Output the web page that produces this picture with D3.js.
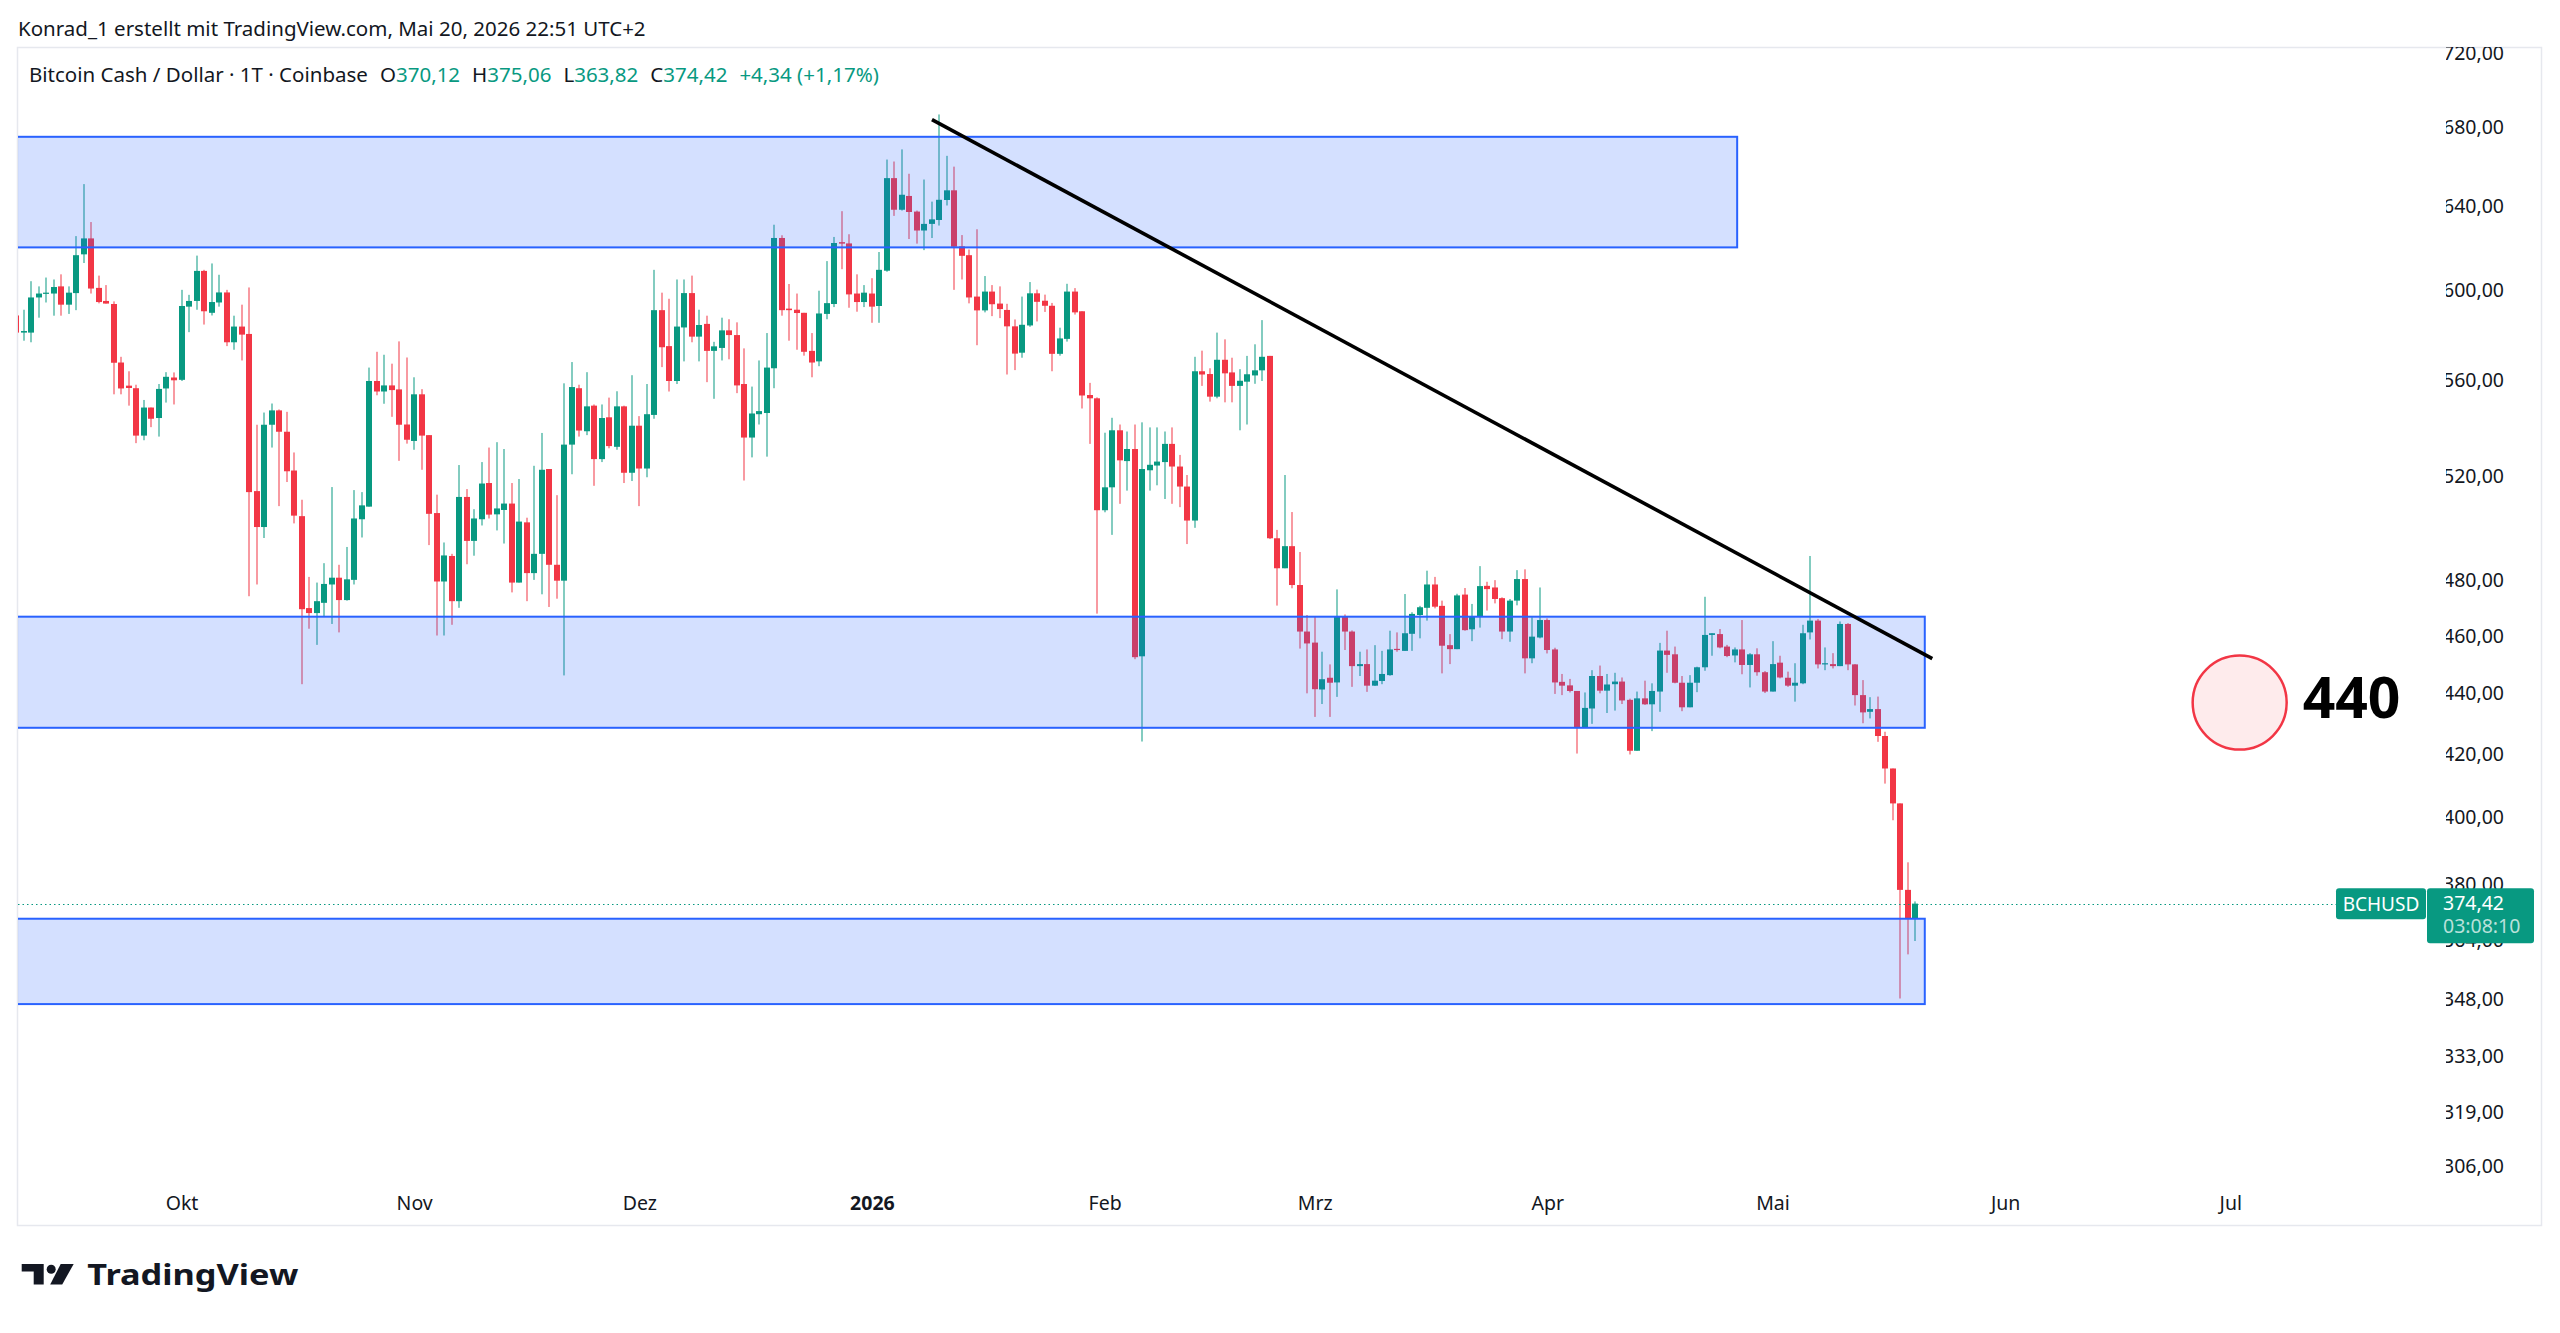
<!DOCTYPE html>
<html>
<head>
<meta charset="utf-8">
<script src="https://cdn.jsdelivr.net/npm/d3@7"></script>
<style>
html, body { margin: 0; padding: 0; background: #fff; }
svg { display: block; font-family: "Noto Sans", "DejaVu Sans", sans-serif; }
</style>
</head>
<body>
<svg id="chart" width="2560" height="1333"></svg>
<script>
// daily BCH/USD candles, first one is 2025-09-09 (partly cut at the left edge)
const firstDay = "2025-09-09";

const opens = [588.4,
	580.7, 580.7, 596.6, 598.4, 598.4, 601.7, 593.3, 598.6, 616.7, 624.3,
	601.0, 595.0, 593.6, 567.5, 557.5, 556.4, 536.5, 548.2, 543.8, 556.3,
	561.0, 560.0, 592.4, 595.0, 608.9, 589.6, 594.3, 598.9, 576.4, 583.4,
	580.1, 514.1, 500.1, 541.0, 547.0, 538.1, 522.3, 504.3, 469.9, 468.1,
	471.8, 478.5, 481.0, 472.8, 480.2, 503.1, 508.0, 559.5, 555.0, 557.6,
	555.9, 541.1, 534.3, 553.8, 536.7, 505.5, 479.6, 489.1, 472.4, 511.8,
	494.8, 503.1, 517.3, 505.0, 506.7, 509.2, 479.2, 501.9, 482.7, 489.9,
	522.9, 485.8, 479.9, 532.8, 556.4, 538.3, 549.0, 526.9, 544.1, 531.9,
	548.7, 521.4, 540.6, 523.1, 545.1, 590.8, 574.7, 559.5, 583.0, 598.6,
	578.9, 584.6, 572.6, 573.9, 581.7, 579.6, 558.2, 535.7, 545.4, 545.9,
	565.0, 624.5, 591.5, 591.0, 589.6, 572.6, 568.0, 589.1, 593.6, 622.5,
	621.9, 598.4, 594.5, 598.4, 592.7, 609.0, 653.9, 638.2, 645.0, 637.3,
	628.1, 631.3, 633.2, 643.0, 647.8, 620.5, 616.3, 597.0, 590.7, 599.3,
	593.8, 590.9, 583.5, 571.8, 583.9, 598.5, 595.1, 592.8, 571.3, 577.9,
	599.3, 590.3, 553.5, 552.1, 506.6, 515.6, 538.7, 526.1, 531.0, 452.8,
	522.4, 524.3, 525.7, 533.1, 523.9, 515.9, 502.6, 563.7, 562.5, 552.8,
	568.7, 563.2, 557.4, 559.2, 561.9, 564.1, 570.4, 495.8, 484.5, 492.8,
	478.3, 461.5, 457.6, 441.4, 445.4, 443.8, 466.8, 461.5, 449.4, 450.1,
	442.7, 444.3, 446.3, 455.4, 454.7, 460.7, 467.4, 470.0, 478.5, 470.7,
	456.7, 455.3, 474.8, 462.3, 467.0, 478.0, 477.4, 473.5, 461.5, 472.6,
	480.5, 452.1, 459.4, 465.6, 455.2, 444.0, 442.8, 440.9, 428.6, 435.0,
	446.0, 441.0, 443.2, 444.1, 437.9, 421.1, 438.4, 436.4, 440.7, 454.8,
	453.5, 443.7, 435.4, 443.7, 449.0, 460.3, 460.6, 456.2, 453.1, 455.2,
	449.8, 453.5, 447.3, 440.7, 450.6, 445.4, 442.7, 443.5, 461.2, 465.4,
	450.0, 450.1, 449.4, 464.2, 450.0, 439.5, 433.9, 434.8, 425.9, 415.4,
	404.4, 378.4, 370.12];

const highs = [590.0,
	591.0, 604.1, 601.7, 605.8, 604.9, 607.3, 601.7, 625.4, 650.9, 632.2,
	606.7, 602.3, 594.8, 570.0, 563.7, 557.9, 551.4, 548.2, 558.2, 563.3,
	563.2, 600.1, 597.8, 616.1, 609.4, 612.4, 607.1, 600.1, 588.3, 593.3,
	601.2, 541.0, 546.1, 549.9, 547.4, 546.4, 529.6, 510.7, 481.3, 479.2,
	486.4, 515.7, 485.8, 492.5, 514.5, 513.7, 565.3, 572.2, 570.9, 567.0,
	576.8, 569.7, 561.1, 556.0, 536.7, 512.7, 494.2, 489.9, 524.5, 514.9,
	507.0, 525.7, 531.6, 533.8, 531.0, 517.3, 518.9, 503.7, 524.2, 537.6,
	522.9, 512.5, 558.5, 567.7, 557.9, 563.3, 549.5, 549.5, 552.4, 555.1,
	549.0, 562.0, 544.6, 558.2, 609.4, 598.8, 596.0, 604.9, 604.9, 606.7,
	591.0, 588.3, 576.6, 587.4, 586.7, 585.3, 573.7, 557.1, 568.4, 580.5,
	630.9, 625.8, 602.8, 598.4, 589.6, 580.5, 599.7, 613.5, 625.0, 637.5,
	626.3, 607.3, 602.3, 605.5, 617.8, 663.3, 662.3, 668.5, 656.1, 637.8,
	653.2, 642.2, 686.7, 665.2, 659.7, 625.9, 619.0, 628.7, 606.5, 602.3,
	601.7, 593.7, 586.6, 597.0, 603.7, 600.2, 597.9, 594.1, 582.9, 602.9,
	600.9, 590.3, 558.7, 552.5, 537.7, 543.9, 541.1, 538.2, 541.1, 542.0,
	539.9, 539.9, 538.2, 539.9, 528.6, 520.5, 570.0, 572.7, 565.0, 580.7,
	577.7, 569.6, 564.6, 570.4, 575.5, 586.3, 570.4, 499.0, 520.5, 505.9,
	490.6, 467.4, 466.8, 454.4, 450.0, 476.7, 467.6, 461.9, 454.4, 455.2,
	456.7, 454.7, 461.8, 461.2, 475.0, 468.4, 470.7, 483.6, 481.3, 472.6,
	460.6, 475.1, 477.2, 471.4, 485.3, 479.5, 480.1, 473.8, 473.2, 483.8,
	484.1, 466.6, 477.4, 466.2, 455.8, 446.7, 445.0, 440.9, 440.4, 448.0,
	449.6, 446.7, 447.1, 445.5, 438.3, 440.7, 444.4, 443.5, 457.5, 461.8,
	456.2, 446.0, 446.3, 449.2, 474.0, 460.9, 462.4, 456.8, 455.9, 465.6,
	453.9, 455.6, 447.7, 458.1, 453.0, 447.5, 450.4, 463.9, 489.1, 466.0,
	455.9, 453.9, 465.1, 464.5, 450.1, 444.6, 438.8, 439.0, 427.3, 415.4,
	404.4, 386.5, 375.06];

const lows = [579.0,
	577.1, 576.4, 587.4, 594.3, 588.3, 588.3, 589.1, 590.8, 612.6, 598.4,
	593.9, 593.8, 553.8, 553.8, 549.0, 533.4, 534.6, 540.0, 536.1, 550.3,
	549.5, 559.5, 580.9, 591.0, 584.3, 588.4, 592.4, 574.7, 573.1, 568.4,
	474.2, 478.5, 495.9, 531.6, 508.2, 517.7, 501.5, 443.2, 462.5, 456.8,
	466.9, 464.2, 461.2, 472.6, 478.5, 496.1, 508.0, 553.4, 549.8, 544.3,
	526.2, 533.2, 530.7, 522.6, 493.2, 460.1, 460.1, 463.9, 470.0, 486.0,
	489.2, 500.7, 503.4, 498.8, 493.8, 475.6, 479.2, 472.4, 480.2, 474.9,
	470.3, 473.3, 446.2, 520.8, 536.1, 536.7, 516.2, 525.7, 531.3, 530.7,
	517.3, 518.1, 508.2, 519.6, 543.5, 565.5, 555.0, 558.2, 568.0, 576.4,
	568.0, 559.0, 551.9, 568.4, 568.9, 554.3, 518.3, 527.6, 541.1, 527.9,
	556.4, 588.3, 577.1, 573.1, 570.5, 561.1, 565.9, 586.7, 592.2, 609.7,
	591.9, 590.1, 592.2, 585.1, 585.1, 608.5, 635.2, 637.8, 624.0, 621.8,
	618.7, 624.5, 630.5, 640.3, 600.1, 604.9, 593.9, 575.1, 589.8, 588.1,
	587.2, 562.3, 564.2, 569.6, 583.3, 585.7, 590.0, 563.7, 570.5, 576.7,
	588.8, 547.8, 533.1, 467.9, 505.8, 497.1, 509.1, 514.3, 451.8, 424.1,
	514.3, 516.4, 511.0, 509.1, 507.8, 493.6, 499.8, 557.4, 550.7, 552.1,
	550.4, 550.4, 538.7, 541.1, 558.3, 559.5, 495.5, 470.8, 484.5, 477.1,
	455.5, 440.1, 432.2, 436.5, 432.2, 438.9, 455.0, 442.3, 446.0, 440.6,
	442.6, 443.2, 446.1, 454.4, 454.7, 454.7, 459.1, 465.4, 469.8, 446.9,
	450.1, 455.3, 461.8, 458.1, 462.9, 469.0, 471.6, 458.8, 457.9, 470.9,
	446.9, 450.4, 459.1, 453.8, 439.9, 439.5, 440.4, 420.2, 428.6, 429.9,
	440.1, 433.5, 434.3, 436.5, 419.9, 421.1, 436.2, 427.5, 433.9, 447.1,
	443.5, 434.1, 435.4, 440.5, 447.8, 453.0, 455.6, 452.5, 450.7, 446.6,
	442.1, 446.1, 440.2, 440.7, 445.2, 442.3, 437.3, 443.2, 458.7, 448.6,
	448.0, 448.6, 449.4, 448.0, 436.0, 430.1, 431.7, 424.0, 410.6, 399.2,
	348.1, 360.1, 363.82];

const closes = [580.7,
	581.4, 596.6, 598.4, 598.8, 601.4, 593.3, 598.8, 616.3, 624.3, 600.7,
	594.5, 593.8, 567.4, 556.3, 556.5, 536.5, 548.2, 543.5, 556.1, 561.3,
	559.8, 592.7, 595.0, 608.9, 590.3, 594.5, 598.9, 576.4, 583.4, 579.8,
	513.7, 500.1, 541.0, 547.0, 538.1, 522.0, 504.5, 469.5, 468.1, 472.4,
	478.7, 481.0, 472.8, 480.4, 503.4, 508.5, 559.5, 555.0, 557.6, 555.6,
	541.0, 534.8, 553.8, 536.5, 505.2, 479.6, 489.3, 472.4, 511.8, 494.8,
	503.4, 517.1, 504.9, 507.3, 509.2, 479.2, 502.2, 482.7, 489.9, 522.6,
	485.8, 479.9, 532.8, 556.9, 538.6, 548.7, 526.9, 543.8, 532.2, 548.7,
	521.4, 540.6, 523.1, 545.4, 590.8, 574.2, 559.5, 583.4, 598.6, 578.9,
	584.1, 572.6, 574.6, 581.7, 579.6, 557.6, 535.7, 545.7, 546.7, 565.3,
	624.5, 590.8, 590.8, 589.5, 572.2, 567.5, 589.3, 594.0, 622.1, 621.8,
	598.0, 594.5, 598.8, 592.4, 609.4, 653.9, 638.2, 645.6, 637.1, 628.1,
	631.3, 633.5, 643.1, 647.8, 620.3, 616.0, 596.6, 590.7, 599.3, 593.5,
	591.3, 583.5, 571.4, 584.2, 598.5, 594.6, 592.8, 571.3, 578.1, 599.3,
	589.8, 553.3, 552.1, 506.6, 515.6, 538.7, 526.4, 531.0, 452.5, 522.9,
	524.6, 525.9, 533.1, 523.9, 515.9, 502.6, 563.7, 562.3, 552.8, 568.7,
	562.8, 557.4, 559.6, 562.4, 564.1, 570.0, 495.8, 484.5, 492.8, 478.3,
	461.5, 457.3, 441.5, 444.9, 443.7, 466.8, 461.5, 449.4, 450.1, 442.7,
	444.4, 446.7, 455.2, 455.0, 460.9, 467.8, 470.2, 478.5, 470.4, 456.5,
	455.3, 474.5, 462.0, 467.0, 477.9, 476.8, 473.2, 461.5, 472.6, 480.5,
	452.1, 459.7, 465.6, 455.0, 443.8, 442.7, 440.9, 428.6, 435.2, 446.0,
	441.0, 443.1, 444.1, 437.7, 421.1, 438.4, 436.4, 440.9, 454.8, 453.3,
	443.7, 435.4, 443.7, 449.0, 460.3, 460.9, 455.9, 452.9, 455.2, 449.8,
	453.5, 447.3, 440.7, 450.1, 445.5, 442.7, 443.7, 460.9, 465.4, 450.0,
	450.4, 449.4, 464.2, 450.0, 439.5, 433.7, 434.8, 425.9, 415.4, 404.4,
	378.4, 370.08, 374.42];

const priceTicks = [720, 680, 640, 600, 560, 520, 480, 460, 440, 420, 400, 380, 364, 348, 333, 319, 306];
const monthDays = ["2025-10-01", "2025-11-01", "2025-12-01", "2026-01-01", "2026-02-01",
	"2026-03-01", "2026-04-01", "2026-05-01", "2026-06-01", "2026-07-01"];
const monthLabels = ["Okt", "Nov", "Dez", "2026", "Feb", "Mrz", "Apr", "Mai", "Jun", "Jul"];

// drawings: boxes, trend line, marker
const zoneLows = [620, 428.6, 346.6];
const zoneHighs = [675, 466.8, 370.1];
const zoneEnds = ["2026-04-26T07:00Z", "2026-05-21T07:00Z", "2026-05-21T07:00Z"];
const trendDays = ["2026-01-09T00:00Z", "2026-05-22T07:00Z"];
const trendPrices = [684, 452];
const markerDay = "2026-07-02T06:00Z";
const markerPrice = 437;
const markerLabel = "440";

const countdown = "03:08:10";
const symbol = "BCHUSD";

const green = "#089981", red = "#f23645", ink = "#131722";
const pane = {left: 18, right: 2429, top: 47, bottom: 1180};

const svg = d3.select("#chart");
const fmt = v => v.toFixed(2).replace(".", ",");

let x = d3.scaleUtc()
	.domain([new Date("2025-10-01T00:00Z"), new Date("2026-05-01T00:00Z")])
	.range([181.5, 1772.5]);
let y = d3.scaleLog()
	.domain([306, 680])
	.range([1166.2, 127.2]);

let start = new Date(firstDay + "T00:00Z");
let candles = opens.map((o, k) => ({
	date: d3.utcDay.offset(start, k),
	o: o, h: highs[k], l: lows[k], c: closes[k]
}));

// frame
svg.append("rect")
	.attr("x", 17.5).attr("y", 47.5)
	.attr("width", 2524).attr("height", 1178)
	.attr("fill", "#fff")
	.attr("stroke", "#e6e8ee")
	.attr("stroke-width", 1.5);

svg.append("clipPath").attr("id", "pane")
	.append("rect")
	.attr("x", pane.left).attr("y", pane.top)
	.attr("width", pane.right - pane.left).attr("height", pane.bottom - pane.top);

let plot = svg.append("g").attr("clip-path", "url(#pane)");

// candles
let bars = plot.append("g").attr("class", "candles")
	.selectAll("g")
	.data(candles)
	.enter().append("g")
	.attr("fill", d => d.c >= d.o ? green : red);

bars.append("rect")
	.attr("x", d => Math.round(x(d.date)) - 0.5)
	.attr("width", 1)
	.attr("y", d => y(d.h))
	.attr("height", d => y(d.l) - y(d.h));

bars.append("rect")
	.attr("x", d => Math.round(x(d.date)) - 3)
	.attr("width", 6)
	.attr("y", d => y(Math.max(d.o, d.c)))
	.attr("height", d => Math.max(1.2, Math.abs(y(d.o) - y(d.c))));

// support / resistance boxes
plot.append("g").attr("class", "zones")
	.selectAll("rect")
	.data(zoneLows.map((lo, k) => ({lo: lo, hi: zoneHighs[k], end: new Date(zoneEnds[k])})))
	.enter().append("rect")
	.attr("x", pane.left - 4)
	.attr("y", d => y(d.hi))
	.attr("width", d => x(d.end) - pane.left + 4)
	.attr("height", d => y(d.lo) - y(d.hi))
	.attr("fill", "rgba(41,98,255,0.2)")
	.attr("stroke", "#2962ff")
	.attr("stroke-width", 2);

// trend line
plot.append("line")
	.attr("x1", x(new Date(trendDays[0]))).attr("y1", y(trendPrices[0]))
	.attr("x2", x(new Date(trendDays[1]))).attr("y2", y(trendPrices[1]))
	.attr("stroke", "#000")
	.attr("stroke-width", 3.6);

// last price line
let last = candles[candles.length - 1];
let prev = candles[candles.length - 2];
let yLast = y(last.c);
plot.append("line")
	.attr("x1", pane.left).attr("x2", 2336)
	.attr("y1", Math.round(yLast) + 0.5).attr("y2", Math.round(yLast) + 0.5)
	.attr("stroke", green)
	.attr("stroke-width", 1)
	.attr("stroke-dasharray", "1.5,3");

// marker circle + label
let mx = x(new Date(markerDay)), my = y(markerPrice);
plot.append("circle")
	.attr("cx", mx).attr("cy", my).attr("r", 47)
	.attr("fill", "rgba(242,54,69,0.1)")
	.attr("stroke", red)
	.attr("stroke-width", 2.5);
plot.append("text")
	.attr("x", mx + 63).attr("y", my + 15.5)
	.attr("font-size", 57).attr("font-weight", 700)
	.attr("fill", "#000")
	.text(markerLabel);

// price axis
let yAxis = svg.append("g")
	.attr("class", "axis y")
	.attr("transform", `translate(${pane.right}, 0)`)
	.call(d3.axisRight(y).tickValues(priceTicks).tickFormat(fmt).tickSize(0).tickPadding(14));
yAxis.select(".domain").remove();
yAxis.selectAll("text")
	.attr("font-size", 19.5)
	.attr("font-family", "\"Noto Sans\", sans-serif")
	.attr("fill", ink);

svg.append("clipPath").attr("id", "frame")
	.append("rect").attr("x", 17).attr("y", 47).attr("width", 2525).attr("height", 1179);
yAxis.attr("clip-path", "url(#frame)");

// time axis
let xAxis = svg.append("g")
	.attr("class", "axis x")
	.attr("transform", `translate(0, ${pane.bottom})`)
	.call(d3.axisBottom(x)
		.tickValues(monthDays.map(s => new Date(s + "T00:00Z")))
		.tickFormat((d, k) => monthLabels[k])
		.tickSize(0));
xAxis.select(".domain").remove();
xAxis.selectAll("text")
	.attr("y", 23).attr("dy", "0.35em")
	.attr("font-size", 19.5)
	.attr("font-family", "\"Noto Sans\", sans-serif")
	.attr("font-weight", (d, k) => monthLabels[k] === "2026" ? 700 : 400)
	.attr("fill", ink);

// symbol + last price labels
let tag = svg.append("g").attr("transform", `translate(0, ${yLast})`);
tag.append("rect")
	.attr("x", 2336).attr("y", -15.5).attr("width", 90).attr("height", 31)
	.attr("rx", 3).attr("fill", green);
tag.append("text")
	.attr("x", 2381).attr("y", 0.5).attr("dy", "0.35em")
	.attr("text-anchor", "middle")
	.attr("font-size", 19).attr("fill", "#fff")
	.text(symbol);
tag.append("rect")
	.attr("x", 2427).attr("y", -15.5).attr("width", 107).attr("height", 55)
	.attr("rx", 3).attr("fill", green);
tag.append("text")
	.attr("x", 2443).attr("y", 0).attr("dy", "0.35em")
	.attr("font-size", 19.5).attr("fill", "#fff")
	.text(fmt(last.c));
tag.append("text")
	.attr("x", 2443).attr("y", 23).attr("dy", "0.35em")
	.attr("font-size", 19.5).attr("fill", "rgba(255,255,255,0.72)")
	.text(countdown);

// header
svg.append("text")
	.attr("x", 18).attr("y", 28.5).attr("dy", "0.35em")
	.attr("font-size", 20.5).attr("fill", ink)
	.text("Konrad_1 erstellt mit TradingView.com, Mai 20, 2026 22:51 UTC+2");

let change = last.c - prev.c;
let legend = svg.append("text")
	.attr("x", 29).attr("y", 75).attr("dy", "0.35em")
	.attr("font-size", 20.5).attr("fill", ink);
legend.append("tspan").text("Bitcoin Cash / Dollar · 1T · Coinbase");
[["O", last.o], ["H", last.h], ["L", last.l], ["C", last.c]].forEach(([k, v]) => {
	legend.append("tspan").attr("dx", 12).text(k);
	legend.append("tspan").attr("fill", green).text(fmt(v));
});
legend.append("tspan").attr("dx", 12).attr("fill", green)
	.text(`+${fmt(change)} (+${fmt(change / prev.c * 100)}%)`);

// TradingView logo
let logo = svg.append("g").attr("transform", "translate(21.7, 1264)").attr("fill", ink);
logo.append("path").attr("d", "M0 0 H22 V20.5 H12 V7.5 H0 Z");
logo.append("circle").attr("cx", 29.5).attr("cy", 5.2).attr("r", 4.5);
logo.append("path").attr("d", "M39 0 H52 L40.5 20.5 H28.5 Z");
svg.append("text")
	.attr("x", 87.3).attr("y", 1284.5)
	.attr("font-size", 28.5).attr("font-weight", 700)
	.attr("textLength", 211).attr("lengthAdjust", "spacingAndGlyphs")
	.attr("fill", ink)
	.text("TradingView");
</script>
</body>
</html>
